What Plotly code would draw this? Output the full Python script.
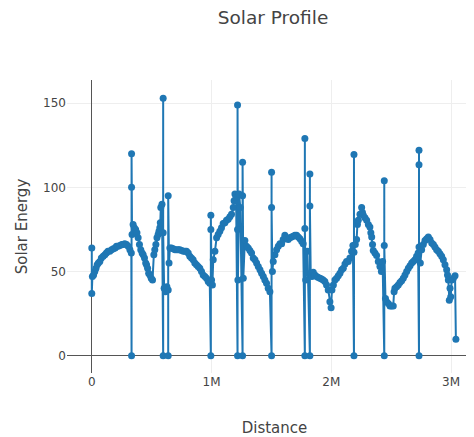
import plotly.graph_objects as go

# Distance (m) and solar energy values
distance = [
    0, 0, 5000, 15000, 25000, 35000, 45000, 55000, 67000, 80000, 95000, 109000, 122000, 135000, 150000,
    165000, 180000, 195000, 206000, 220000, 235000, 250000, 262000, 275000, 290000, 304000, 318000, 330000,
    332000, 332000, 332000, 336000, 345000, 355000, 366000, 377000, 387000, 398000, 409000, 420000,
    429000, 440000, 450000, 457000, 466000, 475000, 485000, 496000, 507000, 518000, 526000, 535000,
    544000, 554000, 561000, 568000, 572000, 576000, 586000,
    596000, 596000, 596000, 604000, 615000, 627000, 638000, 638000, 638000, 645000,
    652000, 665000, 680000, 695000, 710000, 723000, 735000, 750000, 765000, 778000, 791000, 805000,
    818000, 832000, 846000, 860000, 874000, 888000, 902000, 916000, 930000, 944000, 958000, 972000, 985000,
    994000, 994000, 994000, 1000000, 1007000, 1014000, 1028000, 1042000, 1055000, 1069000, 1083000,
    1097000, 1111000, 1125000, 1139000, 1153000, 1167000, 1181000, 1188000, 1195000, 1205000,
    1217000, 1217000, 1217000, 1220000, 1230000, 1240000, 1259000, 1259000, 1259000, 1265000,
    1278000, 1292000, 1306000, 1320000, 1334000, 1348000, 1362000, 1376000, 1390000, 1404000, 1418000,
    1432000, 1445000, 1459000, 1473000, 1487000,
    1501000, 1501000, 1501000, 1508000, 1515000, 1529000, 1543000, 1557000, 1571000, 1585000, 1598000,
    1612000, 1626000, 1640000, 1654000, 1668000, 1682000, 1696000, 1710000, 1724000, 1738000, 1752000,
    1765000, 1779000, 1779000, 1779000, 1786000, 1800000, 1821000, 1821000, 1821000, 1828000,
    1838000, 1849000, 1863000, 1877000, 1891000, 1905000, 1918000, 1932000, 1946000, 1960000, 1974000,
    1988000, 1998000, 2005000, 2017000, 2030000, 2044000, 2058000, 2072000, 2086000, 2100000, 2114000,
    2127000, 2141000, 2155000, 2169000, 2180000,
    2189000, 2189000, 2189000, 2200000, 2211000, 2218000, 2225000, 2239000, 2253000, 2260000, 2267000,
    2281000, 2295000, 2309000, 2322000, 2330000, 2337000, 2344000, 2350000, 2364000, 2378000, 2392000,
    2406000, 2418000, 2428000,
    2442000, 2442000, 2442000, 2452000, 2462000, 2476000, 2490000, 2503000, 2517000, 2524000, 2531000,
    2545000, 2559000, 2573000, 2587000, 2601000, 2615000, 2629000, 2643000, 2657000, 2671000, 2684000,
    2698000, 2712000, 2725000,
    2732000, 2732000, 2732000, 2732000, 2743000, 2754000, 2768000, 2782000, 2796000, 2810000, 2824000,
    2838000, 2852000, 2865000, 2879000, 2893000, 2907000, 2921000, 2935000, 2949000, 2963000, 2970000,
    2977000, 2985000, 2991000, 2997000, 3005000, 3019000, 3033000, 3040000,
]

solar_energy = [
    64, 37, 47, 48, 50, 52, 54, 55, 56, 58, 59, 60, 61, 62, 62,
    63, 63.5, 64, 65, 65, 65.5, 66, 66, 66.5, 66, 65, 63, 61,
    0, 120, 100, 72, 78, 76, 75, 73, 70, 66, 63, 61,
    60, 58, 55, 54, 52, 49, 48, 46, 45, 60, 63, 66,
    70, 72, 74, 76, 79, 88, 90,
    0, 153, 73, 40, 38, 41, 39, 0, 95, 55,
    64, 64, 63.5, 63, 63, 63, 63, 62.5, 62, 62, 62, 61,
    59, 58, 57, 55, 54, 53, 52, 50, 48, 47, 46, 44, 43,
    0, 83.5, 75, 45, 42, 57, 62, 70, 72, 74, 76,
    78.5, 79, 80.5, 81, 82.5, 84, 88, 92, 96, 94,
    0, 149, 75, 45, 96, 88, 0, 115, 95, 46,
    68.5, 65, 64, 62.5, 61, 58, 57, 55, 53, 51, 49,
    47, 45, 43, 40, 38,
    0, 109, 88, 50, 56, 60, 63, 65, 66.5, 66.5, 69,
    71.5, 70, 69, 70, 70.5, 71, 71.5, 71.5, 70.5, 69.5, 68,
    66.5, 0, 129, 75.5, 45, 62, 0, 108, 89, 49,
    47, 49.5, 48, 47, 46.5, 46, 45.5, 45, 44, 42, 39,
    32, 28.5, 39, 42, 45, 46, 47.5, 49, 51, 52, 54.5,
    56, 56, 58, 62, 65.5,
    0, 119.5, 61.5, 66, 69, 78, 80.5, 84, 88, 85, 83.5,
    82, 80.5, 78, 76.5, 73, 70.5, 66, 62.5, 61, 59.5, 56,
    53, 50, 56,
    0, 104, 65.5, 34, 32, 31, 29.5, 29.5, 29.5, 38, 40,
    41, 42, 43.5, 44.5, 46, 48, 50, 52, 53.5, 55, 56,
    57, 59, 61,
    0, 122, 113.5, 64.5, 55, 63, 66, 68.5, 69.5, 70.5, 69,
    67, 66, 64.5, 63, 62, 60.5, 59, 57, 54, 51, 48,
    45, 33, 40, 35, 45, 46, 47.5, 9.7,
]

x_tick_vals = [0, 1000000, 2000000, 3000000]
x_tick_text = ["0", "1M", "2M", "3M"]
y_tick_vals = [0, 50, 100, 150]

fig = go.Figure(
    go.Scatter(
        x=distance,
        y=solar_energy,
        mode="lines+markers",
        line=dict(color="#1f77b4", width=2),
        marker=dict(color="#1f77b4", size=7),
    )
)

fig.update_layout(
    width=474,
    height=437,
    template="none",
    paper_bgcolor="white",
    plot_bgcolor="white",
    font=dict(family="DejaVu Sans, Verdana, sans-serif", size=12, color="#444"),
    title=dict(
        text="Solar Profile",
        font=dict(size=18.5, color="#444"),
        x=265 / 474, xref="container", xanchor="center",
        y=1 - 10 / 437, yref="container", yanchor="middle",
    ),
    margin=dict(l=59, r=0, t=72, b=72),
    showlegend=False,
    xaxis=dict(
        title=dict(text="Distance", font=dict(size=15), standoff=34),
        automargin=False,
        range=[-207000, 3258000],
        tickvals=x_tick_vals,
        ticktext=x_tick_text,
        showgrid=True, gridcolor="#eee", gridwidth=1,
        zeroline=True, zerolinecolor="#555", zerolinewidth=1,
        showline=False, ticks="",
    ),
    yaxis=dict(
        title=dict(text="Solar Energy", font=dict(size=15)),
        automargin=False,
        range=[-10.3, 163.8],
        tickvals=y_tick_vals,
        showgrid=True, gridcolor="#eee", gridwidth=1,
        zeroline=True, zerolinecolor="#555", zerolinewidth=1,
        showline=False, ticks="",
    ),
)

fig.write_html("out.html")
